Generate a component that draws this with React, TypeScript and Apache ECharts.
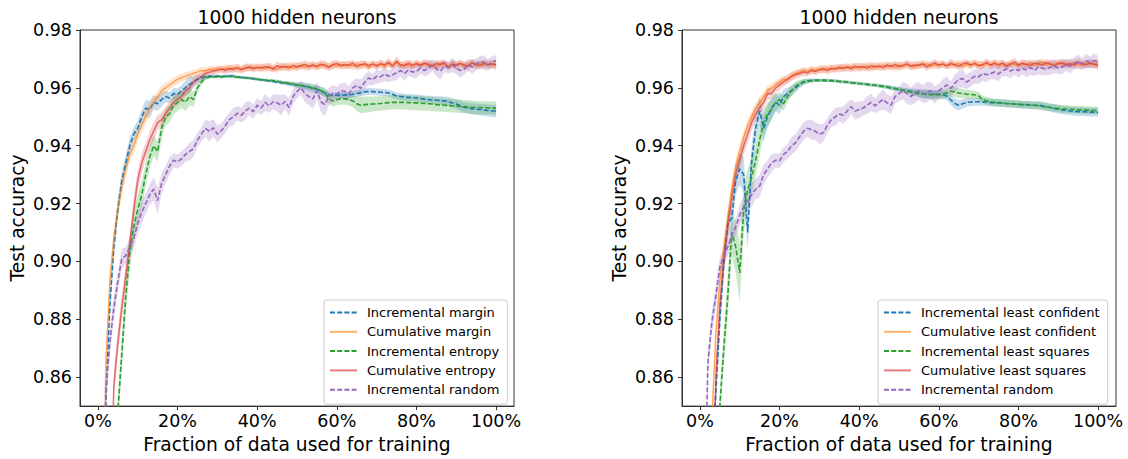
import React, { useEffect, useRef } from "react";
import * as echarts from "echarts";

// ---------- data (accuracy values in units of 1e-4, x in % of data) ----------
const X = [1,2,3,4,5,6,7,8,9,10,11,12,13,14,15,16,17,18,19,20,21,22,23,24,25,26,27,28,29,30,31,32,33,34,35,36,37,38,39,40,41,42,43,44,45,46,47,48,49,50,51,52,53,54,55,56,57,58,59,60,61,62,63,64,65,66,67,68,69,70,71,72,73,74,75,76,77,78,79,80,81,82,83,84,85,86,87,88,89,90,91,92,93,94,95,96,97,98,99,100];

const X_TICKS = [0, 20, 40, 60, 80, 100];
const Y_TICKS = [0.86, 0.88, 0.9, 0.92, 0.94, 0.96, 0.98];

const TITLE = "1000 hidden neurons";
const X_NAME = "Fraction of data used for training";
const Y_NAME = "Test accuracy";

const LEFT_NAMES = ["Incremental margin", "Cumulative margin", "Incremental entropy", "Cumulative entropy", "Incremental random"];
const RIGHT_NAMES = ["Incremental least confident", "Cumulative least confident", "Incremental least squares", "Cumulative least squares", "Incremental random"];

// left panel
const L_INC_MARGIN = [7800,8520,8850,9050,9180,9280,9340,9400,9440,9460,9500,9530,9525,9550,9545,9560,9570,9565,9580,9578,9590,9600,9612,9620,9630,9635,9638,9640,9640,9641,9640,9640,9642,9641,9638,9636,9635,9633,9632,9630,9628,9626,9624,9622,9620,9618,9616,9614,9612,9610,9608,9605,9602,9598,9595,9590,9582,9576,9575,9575,9574,9575,9576,9578,9580,9583,9586,9588,9587,9586,9585,9584,9582,9578,9572,9570,9568,9567,9566,9565,9563,9561,9560,9558,9557,9556,9555,9553,9548,9544,9538,9532,9530,9528,9526,9525,9523,9522,9520,9520];
const L_INC_MARGIN_BAND = [30,40,40,35,35,30,30,30,25,25,25,30,30,25,25,25,20,20,20,20,20,25,30,20,15,10,8,6,5,5,5,5,5,5,5,5,5,5,5,5,5,5,5,5,6,6,7,8,9,10,12,14,15,15,15,14,12,10,10,10,10,10,10,12,12,12,12,12,12,12,12,12,12,12,12,12,12,12,12,12,13,13,13,14,14,15,15,16,16,17,18,18,19,19,20,20,20,21,21,22];
const L_CUM_MARGIN = [7800,8650,8930,9080,9180,9260,9320,9370,9400,9440,9470,9500,9530,9550,9570,9590,9600,9610,9620,9630,9635,9640,9645,9650,9655,9660,9658,9664,9662,9667,9663,9668,9665,9670,9666,9662,9671,9667,9672,9668,9673,9666,9674,9669,9663,9675,9670,9676,9668,9674,9678,9671,9676,9680,9672,9677,9681,9673,9679,9675,9682,9676,9680,9674,9683,9677,9681,9670,9684,9678,9682,9675,9685,9679,9688,9676,9683,9680,9674,9686,9679,9684,9677,9682,9671,9686,9680,9675,9683,9679,9685,9673,9681,9687,9676,9684,9678,9683,9680,9682];
const L_CUM_MARGIN_BAND = [30,40,40,35,30,30,30,25,25,25,25,25,20,20,20,18,18,16,15,15,14,14,13,13,12,12,14,12,13,12,12,14,12,13,15,12,13,12,14,12,13,12,15,12,13,14,12,13,12,15,12,13,14,12,13,12,15,12,13,14,12,13,12,15,12,13,14,12,13,12,15,12,13,12,14,12,13,15,12,13,12,14,12,13,15,12,13,12,14,12,13,15,12,13,12,14,12,13,15,16];
const L_INC_ENTROPY = [7600,7800,8000,8200,8480,8680,8880,9030,9120,9180,9230,9300,9360,9400,9380,9460,9500,9510,9540,9550,9560,9550,9570,9560,9600,9620,9635,9637,9638,9638,9638,9639,9640,9638,9637,9636,9635,9634,9632,9630,9628,9627,9626,9625,9623,9620,9618,9616,9613,9610,9608,9606,9604,9600,9596,9590,9585,9562,9555,9560,9562,9562,9560,9555,9545,9540,9542,9543,9544,9545,9546,9548,9549,9550,9550,9550,9550,9549,9548,9548,9547,9546,9545,9544,9542,9541,9540,9539,9538,9537,9536,9535,9534,9533,9532,9532,9531,9531,9530,9530];
const L_INC_ENTROPY_BAND = [30,30,30,40,50,55,60,60,55,50,45,40,40,35,35,35,30,30,30,30,30,30,30,25,15,10,8,6,5,5,5,5,5,5,5,5,5,5,5,5,5,5,5,5,6,6,6,7,7,8,8,9,10,10,12,14,16,18,20,20,20,20,20,22,25,28,28,27,26,25,25,25,25,25,25,25,25,25,25,25,25,25,24,24,24,24,23,23,23,23,23,23,23,23,23,23,23,23,23,23];
const L_CUM_ENTROPY = [7600,7800,8000,8570,8720,8840,8950,9060,9180,9280,9340,9380,9420,9450,9480,9490,9510,9530,9550,9560,9570,9590,9600,9620,9630,9640,9650,9654,9658,9661,9665,9660,9667,9663,9670,9664,9668,9673,9666,9671,9668,9674,9670,9665,9676,9671,9675,9669,9678,9672,9676,9681,9673,9678,9675,9682,9677,9671,9680,9684,9676,9681,9678,9685,9673,9680,9683,9677,9682,9675,9684,9679,9688,9674,9692,9680,9676,9685,9679,9683,9677,9686,9681,9675,9684,9680,9687,9672,9682,9678,9684,9679,9675,9686,9681,9677,9685,9680,9683,9679];
const L_CUM_ENTROPY_BAND = [30,30,30,40,45,45,45,40,40,35,35,30,30,30,25,25,25,20,20,20,18,18,16,15,15,14,14,13,13,12,12,13,14,12,13,12,15,12,13,12,14,12,13,12,15,12,13,14,12,13,12,15,12,13,12,14,12,13,15,12,13,12,14,12,13,15,12,13,12,14,12,13,15,12,16,12,13,12,14,12,13,12,15,12,13,14,12,13,12,15,12,13,14,12,13,15,12,13,14,16];
const L_INC_RANDOM = [8000,8550,8720,8840,8930,9010,9020,9050,9080,9130,9170,9200,9230,9250,9210,9270,9300,9330,9350,9345,9355,9370,9380,9390,9420,9440,9460,9450,9462,9440,9452,9470,9490,9500,9512,9505,9520,9530,9518,9540,9530,9550,9538,9552,9548,9540,9553,9532,9570,9588,9600,9580,9570,9562,9590,9552,9542,9570,9580,9578,9590,9588,9580,9600,9608,9598,9620,9634,9628,9640,9638,9648,9640,9645,9652,9660,9650,9662,9655,9657,9668,9660,9670,9678,9666,9658,9675,9670,9680,9668,9660,9665,9680,9672,9682,9690,9688,9678,9690,9693];
const L_INC_RANDOM_BAND = [30,35,40,40,35,35,30,30,35,35,40,35,35,40,45,35,30,30,25,25,25,25,30,30,25,25,30,35,30,30,25,25,25,30,25,25,30,25,25,25,25,30,25,25,30,35,25,30,25,25,25,30,30,35,30,35,40,30,30,25,25,30,25,25,25,30,25,25,20,25,20,25,20,20,25,20,25,20,20,25,20,20,25,20,25,30,20,20,25,20,25,20,20,25,20,20,25,20,20,20];

// right panel
const R_INC_LC = [7600,7800,8300,8550,8800,9000,9130,9150,9280,9320,9300,9100,9350,9460,9520,9460,9500,9530,9550,9540,9570,9580,9590,9600,9610,9620,9624,9625,9626,9626,9626,9625,9625,9624,9622,9621,9620,9618,9617,9615,9614,9612,9610,9609,9607,9605,9603,9600,9598,9595,9592,9590,9588,9585,9582,9580,9579,9578,9578,9578,9576,9572,9558,9546,9540,9545,9550,9551,9552,9552,9551,9550,9549,9548,9548,9547,9546,9545,9544,9543,9542,9542,9541,9540,9540,9538,9535,9532,9529,9526,9524,9522,9520,9519,9518,9518,9517,9516,9516,9515];
const R_INC_LC_BAND = [30,30,40,50,50,50,45,45,50,55,60,60,55,50,50,45,40,35,30,30,25,20,18,15,12,10,8,6,5,5,5,5,5,5,5,5,5,5,5,5,5,5,5,5,6,6,7,7,8,8,8,9,10,12,14,15,15,15,14,14,14,15,16,18,18,16,15,14,14,14,13,13,13,13,13,13,13,13,13,13,13,13,14,14,14,14,14,14,15,15,15,15,15,15,15,15,15,15,15,15];
const R_CUM_LC = [7800,8000,8450,8750,8930,9050,9150,9250,9330,9380,9430,9470,9500,9530,9550,9570,9590,9600,9610,9620,9630,9628,9640,9650,9655,9660,9657,9664,9660,9665,9662,9668,9664,9670,9666,9672,9668,9674,9669,9673,9670,9676,9668,9675,9671,9678,9673,9677,9670,9679,9674,9680,9676,9672,9681,9677,9683,9675,9680,9678,9684,9676,9681,9679,9685,9674,9682,9678,9686,9680,9677,9684,9680,9688,9675,9683,9679,9685,9681,9676,9684,9680,9687,9678,9683,9690,9679,9684,9681,9686,9680,9685,9678,9688,9682,9677,9686,9683,9681,9684];
const R_CUM_LC_BAND = [30,35,40,40,35,30,30,28,25,25,22,22,20,20,18,18,16,16,15,15,14,13,14,13,12,13,12,14,12,13,12,13,15,12,14,12,13,12,15,12,13,14,12,13,12,15,12,13,14,12,12,13,15,12,14,12,13,12,15,12,13,12,14,12,13,15,12,13,12,14,13,12,15,12,13,14,12,13,12,15,12,13,14,12,13,12,15,12,13,14,12,15,12,13,14,12,13,15,14,16];
const R_INC_LS = [7400,7600,7800,8200,8500,8700,8880,9100,9050,8960,9180,9250,9290,9350,9420,9480,9510,9525,9550,9560,9545,9570,9590,9605,9615,9620,9623,9625,9626,9626,9626,9626,9625,9624,9622,9621,9620,9618,9617,9615,9614,9612,9610,9609,9607,9605,9603,9600,9598,9595,9592,9589,9586,9583,9580,9578,9577,9576,9576,9576,9578,9582,9588,9586,9582,9580,9578,9577,9576,9572,9560,9555,9552,9550,9549,9548,9546,9545,9544,9543,9542,9541,9540,9539,9538,9536,9534,9532,9530,9529,9528,9527,9526,9525,9524,9524,9523,9523,9522,9522];
const R_INC_LS_BAND = [30,30,30,40,50,60,70,80,90,100,80,70,60,55,50,45,40,35,30,25,25,20,18,15,12,10,8,7,6,6,6,6,6,6,6,6,6,6,6,6,6,6,6,6,6,6,7,7,7,7,7,8,9,10,12,14,15,15,16,16,16,17,18,18,17,16,15,15,14,14,13,13,13,13,13,13,13,13,13,13,13,13,13,13,13,13,13,13,13,13,13,13,13,13,13,13,13,13,13,13];
const R_CUM_LS = [7600,7800,8000,8600,8850,9000,9120,9220,9300,9350,9400,9440,9480,9510,9530,9550,9580,9580,9600,9610,9620,9630,9640,9645,9650,9655,9652,9660,9657,9662,9666,9660,9668,9664,9671,9667,9673,9666,9675,9670,9674,9669,9677,9672,9676,9670,9679,9674,9681,9673,9678,9683,9675,9680,9677,9684,9672,9681,9686,9678,9682,9676,9685,9680,9674,9683,9687,9679,9684,9676,9681,9688,9678,9684,9680,9686,9674,9682,9690,9679,9685,9681,9677,9686,9683,9679,9688,9682,9676,9684,9687,9680,9684,9678,9689,9683,9680,9686,9682,9678];
const R_CUM_LS_BAND = [30,30,30,40,45,45,40,40,35,35,30,30,28,25,25,22,20,20,18,18,16,15,15,14,14,13,13,12,13,12,13,14,12,13,12,15,12,13,12,14,12,13,15,12,13,12,14,12,13,15,12,13,12,14,12,13,15,12,14,12,13,12,15,12,13,14,12,13,12,15,12,14,12,13,15,12,13,12,14,12,13,15,12,13,12,14,12,13,15,12,14,12,13,12,15,12,13,14,13,16];
const R_INC_RANDOM = [8000,8650,8790,8880,8980,9020,9050,9090,9120,9160,9190,9210,9230,9250,9260,9300,9320,9340,9350,9348,9370,9380,9400,9410,9430,9450,9460,9455,9450,9440,9445,9470,9490,9500,9510,9505,9520,9535,9520,9525,9530,9540,9550,9538,9550,9560,9548,9540,9570,9580,9590,9580,9570,9582,9590,9578,9585,9590,9576,9590,9600,9610,9598,9615,9630,9632,9620,9630,9640,9638,9650,9645,9650,9655,9648,9660,9665,9658,9665,9660,9668,9662,9670,9660,9672,9668,9665,9670,9676,9668,9672,9680,9675,9685,9690,9682,9693,9688,9695,9690];
const R_INC_RANDOM_BAND = [30,35,40,40,35,30,30,30,30,35,35,35,40,35,40,35,30,30,25,25,25,25,30,30,30,30,30,35,30,35,30,25,25,30,25,30,30,25,30,30,25,30,30,25,30,35,30,30,25,25,30,35,30,35,30,30,35,30,30,25,30,30,25,30,30,30,25,25,25,25,25,25,20,25,25,20,25,25,20,25,20,25,25,20,25,25,20,25,25,20,25,20,25,20,25,20,25,20,25,20];

// ---------- styles ----------
const FONT = "DejaVu Sans";
const COLORS = ["#1f77b4", "#ff7f0e", "#2ca02c", "#d62728", "#9467bd"];
const BAND_RGBA = [
  "rgba(31,119,180,0.25)",
  "rgba(255,127,14,0.2)",
  "rgba(44,160,44,0.25)",
  "rgba(214,39,40,0.2)",
  "rgba(148,103,189,0.25)",
];
const DASHED = [true, false, true, false, true];
const LINE_OPACITY = [1, 0.6, 1, 0.6, 1];

const LEFT_MEANS = [L_INC_MARGIN, L_CUM_MARGIN, L_INC_ENTROPY, L_CUM_ENTROPY, L_INC_RANDOM];
const LEFT_BANDS = [L_INC_MARGIN_BAND, L_CUM_MARGIN_BAND, L_INC_ENTROPY_BAND, L_CUM_ENTROPY_BAND, L_INC_RANDOM_BAND];
const RIGHT_MEANS = [R_INC_LC, R_CUM_LC, R_INC_LS, R_CUM_LS, R_INC_RANDOM];
const RIGHT_BANDS = [R_INC_LC_BAND, R_CUM_LC_BAND, R_INC_LS_BAND, R_CUM_LS_BAND, R_INC_RANDOM_BAND];

const GRIDS = [
  { left: 80, top: 30, width: 434, height: 378 },
  { left: 682, top: 30, width: 434, height: 378 },
];

function bandSeries(gi: number, mean: number[], half: number[], fill: string) {
  const pts = X.map((x, i) => [x, (mean[i] - half[i]) / 1e4, (mean[i] + half[i]) / 1e4]);
  return {
    type: "custom",
    xAxisIndex: gi,
    yAxisIndex: gi,
    silent: true,
    clip: true,
    data: pts,
    encode: { x: 0, y: [1, 2] },
    renderItem: (params: any, api: any) => {
      if (params.dataIndex !== 0) return null;
      const up = pts.map((p) => api.coord([p[0], p[2]]));
      const lo = pts.map((p) => api.coord([p[0], p[1]])).reverse();
      const cs = params.coordSys;
      return {
        type: "polygon",
        shape: { points: up.concat(lo) },
        style: { fill, stroke: null },
        clipPath: { type: "rect", shape: { x: cs.x, y: cs.y, width: cs.width, height: cs.height } },
      };
    },
    z: 1,
  };
}

function lineSeries(gi: number, name: string, mean: number[], k: number) {
  return {
    type: "line",
    name,
    xAxisIndex: gi,
    yAxisIndex: gi,
    data: X.map((x, i) => [x, mean[i] / 1e4]),
    symbol: "none",
    showSymbol: false,
    clip: true,
    lineStyle: {
      color: COLORS[k],
      width: 1.6,
      type: DASHED[k] ? [5, 2.2] : "solid",
      opacity: LINE_OPACITY[k],
    },
    itemStyle: { color: COLORS[k], opacity: LINE_OPACITY[k] },
    z: 2,
  };
}

function buildOption() {
  const series: any[] = [];
  [LEFT_MEANS, RIGHT_MEANS].forEach((means, gi) => {
    const bands = gi === 0 ? LEFT_BANDS : RIGHT_BANDS;
    const names = gi === 0 ? LEFT_NAMES : RIGHT_NAMES;
    means.forEach((m, k) => {
      series.push(bandSeries(gi, m, bands[k], BAND_RGBA[k]));
      series.push(lineSeries(gi, names[k], m, k));
    });
  });

  const axisColor = "#333";
  const tickText = { fontFamily: FONT, fontSize: 17.5, color: "#000" };

  const xAxes = GRIDS.map((_, gi) => ({
    type: "value",
    gridIndex: gi,
    min: -4.5,
    max: 104.5,
    axisLine: { show: true, onZero: false, lineStyle: { color: axisColor, width: 1 } },
    axisTick: { show: true, length: 4, customValues: X_TICKS, lineStyle: { color: axisColor } },
    axisLabel: { ...tickText, margin: 6, customValues: X_TICKS, formatter: (v: number) => `${v}%` },
    splitLine: { show: false },
    name: X_NAME,
    nameLocation: "middle",
    nameGap: 28,
    nameTextStyle: { fontFamily: FONT, fontSize: 18.7, color: "#000" },
  }));
  const yAxes = GRIDS.map((_, gi) => ({
    type: "value",
    gridIndex: gi,
    min: 0.85,
    max: 0.98,
    axisLine: { show: true, onZero: false, lineStyle: { color: axisColor, width: 1 } },
    axisTick: { show: true, length: 4, customValues: Y_TICKS, lineStyle: { color: axisColor } },
    axisLabel: { ...tickText, margin: 8, customValues: Y_TICKS, formatter: (v: number) => v.toFixed(2) },
    splitLine: { show: false },
    name: Y_NAME,
    nameLocation: "middle",
    nameGap: 53,
    nameRotate: 90,
    nameTextStyle: { fontFamily: FONT, fontSize: 18.7, color: "#000" },
  }));

  const legendBase = {
    orient: "vertical",
    top: 300,
    itemWidth: 27,
    itemHeight: 12,
    itemGap: 6.3,
    padding: [6, 8, 8, 5],
    backgroundColor: "#fff",
    borderColor: "#ccc",
    borderWidth: 1,
    borderRadius: 3,
    selectedMode: false,
    itemStyle: { opacity: 0, borderWidth: 0 },
    textStyle: { fontFamily: FONT, fontSize: 13, color: "#000", padding: [0, 0, 0, 5] },
  };

  const titleStyle = { fontFamily: FONT, fontSize: 18.7, fontWeight: "normal", color: "#000" };

  return {
    animation: false,
    backgroundColor: "#fff",
    title: [
      { text: TITLE, left: 297, top: 8, textAlign: "center", padding: 0, textStyle: titleStyle },
      { text: TITLE, left: 899, top: 8, textAlign: "center", padding: 0, textStyle: titleStyle },
    ],
    grid: GRIDS.map((g) => ({ ...g, show: true, borderColor: axisColor, borderWidth: 1, backgroundColor: "transparent" })),
    xAxis: xAxes,
    yAxis: yAxes,
    legend: [
      { ...legendBase, left: 324, data: LEFT_NAMES },
      { ...legendBase, left: 878, data: RIGHT_NAMES },
    ],
    series,
  };
}

export default function App() {
  const ref = useRef<HTMLDivElement>(null);
  useEffect(() => {
    if (!ref.current) return;
    const chart = echarts.init(ref.current, null, { renderer: "svg" });
    chart.setOption(buildOption() as any);
    return () => chart.dispose();
  }, []);
  return <div ref={ref} style={{ position: "fixed", left: 0, top: 0, width: 1128, height: 459, background: "#fff" }} />;
}
